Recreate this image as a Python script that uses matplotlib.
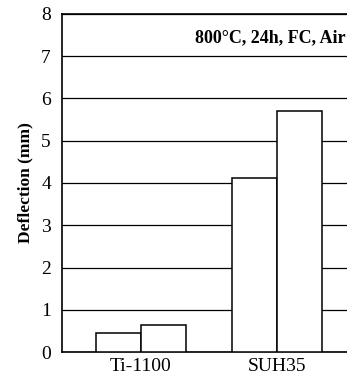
import matplotlib
matplotlib.use("Agg")
import matplotlib.pyplot as plt
import numpy as np

# data
materials = ["Ti-1100", "SUH35"]
deflection_a = [0.46, 4.12]
deflection_b = [0.63, 5.71]
condition = "800°C, 24h, FC, Air"

plt.rcParams["font.family"] = ["Liberation Serif", "DejaVu Serif"]

fig = plt.figure(figsize=(3.47, 3.77), dpi=100)
ax = fig.add_axes([0.1787, 0.0663, 0.8213, 0.8966])

x = np.arange(len(materials))
w = 0.33
ax.bar(x - w / 2, deflection_a, w, color="white", edgecolor="black", linewidth=1.1, zorder=3)
ax.bar(x + w / 2, deflection_b, w, color="white", edgecolor="black", linewidth=1.1, zorder=3)

ax.set_xlim(-0.58, 1.515)
ax.set_ylim(0, 8)
ax.set_yticks(range(0, 9))
ax.set_xticks(x)
ax.set_xticklabels(materials, fontsize=14)
ax.tick_params(axis="y", labelsize=14, length=0, pad=8)
ax.tick_params(axis="x", length=0, pad=4)
ax.yaxis.grid(True, color="black", linewidth=0.9, zorder=0)
ax.set_axisbelow(True)

ax.spines["right"].set_visible(False)
ax.spines["top"].set_linewidth(1.2)
ax.spines["left"].set_linewidth(1.2)
ax.spines["bottom"].set_linewidth(1.2)

ax.set_ylabel("Deflection (mm)", fontsize=12.5, fontweight="bold")
ax.yaxis.set_label_coords(-0.10, 0.5)
ax.text(0.995, 0.93, condition, transform=ax.transAxes, ha="right", va="center",
        fontsize=13, fontweight="bold")

fig.savefig("out.png", dpi=100)
